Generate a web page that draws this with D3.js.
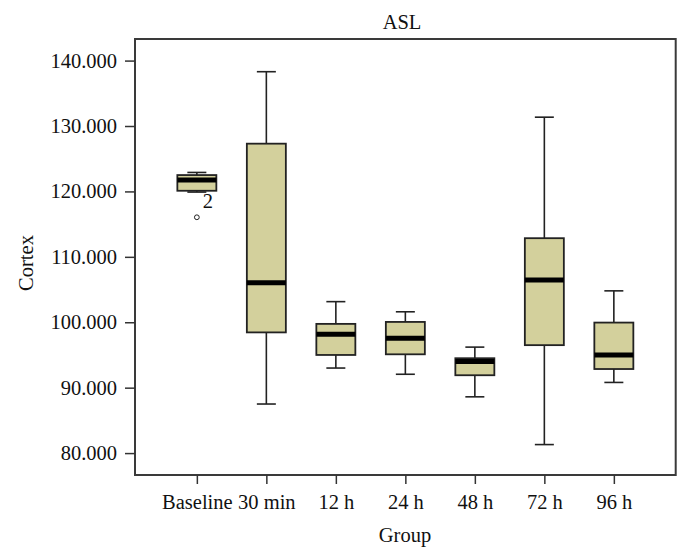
<!DOCTYPE html>
<html>
<head>
<meta charset="utf-8">
<script src="https://cdn.jsdelivr.net/npm/d3@7/dist/d3.min.js"></script>
<style>
  body { margin: 0; background: #fff; }
  svg { display: block; }
  text { font-family: "Liberation Serif", "Times New Roman", serif; fill: #111; }
</style>
</head>
<body>
<svg id="chart" width="690" height="560"></svg>
<script>
// ---- data ----
const groups     = ["Baseline", "30 min", "12 h", "24 h", "48 h", "72 h", "96 h"];
const whiskerLow = [119.9, 87.5, 93.0, 92.05, 88.6, 81.3, 90.8];
const q1         = [120.1, 98.45, 95.0, 95.1, 91.9, 96.5, 92.85];
const medians    = [121.76, 106.05, 98.15, 97.55, 94.0, 106.45, 95.0];
const q3         = [122.5, 127.3, 99.75, 100.05, 94.5, 112.85, 99.95];
const whiskerHigh= [122.9, 138.3, 103.15, 101.6, 96.2, 131.35, 104.8];
const outlierGroups = ["Baseline"];
const outlierValues = [116.05];
const outlierLabels = ["2"];
const yTicks = [80, 90, 100, 110, 120, 130, 140];
const titleText = "ASL";
const xTitle = "Group";
const yTitle = "Cortex";

// ---- layout ----
const svg = d3.select("#chart");
const L = 135, R = 675.7, T = 39, B = 475;
const boxW = 39, capW = 19;
const fillColor = "#d3d09c";
const fs = "20.5px";

const x = d3.scalePoint().domain(groups).range([L, R]).padding(0.89);
const y = d3.scaleLinear().domain([76.65, 143.3]).range([B, T]);

const boxes = groups.map((g, i) => ({
  g, lo: whiskerLow[i], q1: q1[i], med: medians[i], q3: q3[i], hi: whiskerHigh[i]
}));

// frame
svg.append("rect")
  .attr("x", L).attr("y", T).attr("width", R - L).attr("height", B - T)
  .attr("fill", "none").attr("stroke", "#3a3a3a").attr("stroke-width", 2);

// y axis
const yAxis = d3.axisLeft(y).tickValues(yTicks).tickSize(10).tickPadding(8)
  .tickFormat(d3.format(".3f"));
const ya = svg.append("g").attr("transform", `translate(${L},0)`).call(yAxis);
ya.select(".domain").remove();
ya.selectAll(".tick line").attr("stroke", "#333").attr("stroke-width", 1.5);
ya.selectAll(".tick text").style("font-size", fs).attr("fill", "#111")
  .style("font-family", "'Liberation Serif', serif");

// x axis
const xAxis = d3.axisBottom(x).tickSize(9).tickPadding(10);
const xa = svg.append("g").attr("transform", `translate(0,${B})`).call(xAxis);
xa.select(".domain").remove();
xa.selectAll(".tick line").attr("stroke", "#333").attr("stroke-width", 1.5);
xa.selectAll(".tick text").style("font-size", fs).attr("fill", "#111")
  .style("font-family", "'Liberation Serif', serif");

// boxes
const bg = svg.append("g").selectAll("g").data(boxes).join("g");
bg.append("line")
  .attr("x1", d => x(d.g)).attr("x2", d => x(d.g))
  .attr("y1", d => y(d.hi)).attr("y2", d => y(d.q3))
  .attr("stroke", "#222").attr("stroke-width", 1.6);
bg.append("line")
  .attr("x1", d => x(d.g)).attr("x2", d => x(d.g))
  .attr("y1", d => y(d.q1)).attr("y2", d => y(d.lo))
  .attr("stroke", "#222").attr("stroke-width", 1.6);
bg.append("line")
  .attr("x1", d => x(d.g) - capW / 2).attr("x2", d => x(d.g) + capW / 2)
  .attr("y1", d => y(d.hi)).attr("y2", d => y(d.hi))
  .attr("stroke", "#222").attr("stroke-width", 1.6);
bg.append("line")
  .attr("x1", d => x(d.g) - capW / 2).attr("x2", d => x(d.g) + capW / 2)
  .attr("y1", d => y(d.lo)).attr("y2", d => y(d.lo))
  .attr("stroke", "#222").attr("stroke-width", 1.6);
bg.append("rect")
  .attr("x", d => x(d.g) - boxW / 2).attr("width", boxW)
  .attr("y", d => y(d.q3)).attr("height", d => y(d.q1) - y(d.q3))
  .attr("fill", fillColor).attr("stroke", "#222").attr("stroke-width", 1.8);
bg.append("line")
  .attr("x1", d => x(d.g) - boxW / 2).attr("x2", d => x(d.g) + boxW / 2)
  .attr("y1", d => y(d.med)).attr("y2", d => y(d.med))
  .attr("stroke", "#000").attr("stroke-width", 5);

// outliers
const outs = outlierGroups.map((g, i) => ({ g, v: outlierValues[i], lab: outlierLabels[i] }));
svg.append("g").selectAll("circle").data(outs).join("circle")
  .attr("cx", d => x(d.g)).attr("cy", d => y(d.v)).attr("r", 2.4)
  .attr("fill", "#fff").attr("stroke", "#222").attr("stroke-width", 1);
svg.append("g").selectAll("text").data(outs).join("text")
  .attr("x", d => x(d.g) + 6).attr("y", d => y(d.v) - 9)
  .style("font-size", fs).text(d => d.lab);

// titles
svg.append("text").attr("x", 402).attr("y", 29).attr("text-anchor", "middle")
  .style("font-size", fs).text(titleText);
svg.append("text").attr("x", 405).attr("y", 542).attr("text-anchor", "middle")
  .style("font-size", fs).text(xTitle);
svg.append("text").attr("transform", "translate(33,263) rotate(-90)")
  .attr("text-anchor", "middle").style("font-size", fs).text(yTitle);
</script>
</body>
</html>
